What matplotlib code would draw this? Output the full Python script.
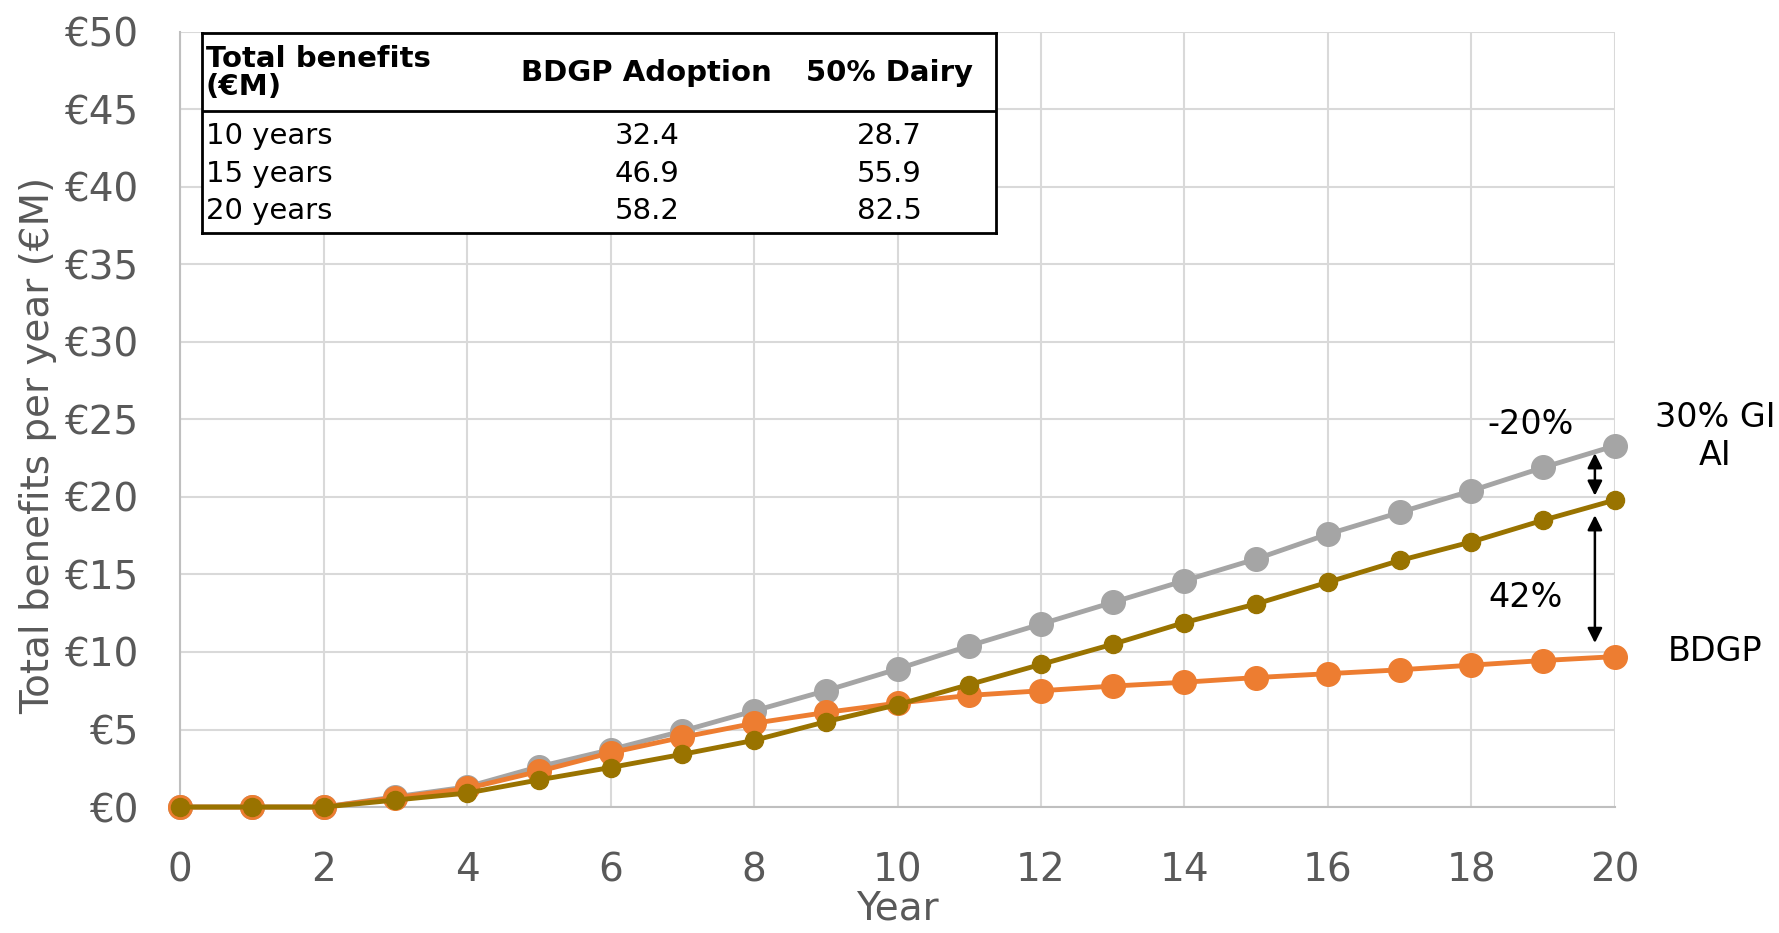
import matplotlib.pyplot as plt

# Data
years = list(range(21))
gi_ai = [0, 0, 0, 0.66, 1.3, 2.6, 3.7, 4.9, 6.2, 7.5, 8.9, 10.4, 11.8, 13.2, 14.6, 16.0, 17.6, 19.0, 20.4, 21.9, 23.3]
dairy = [0, 0, 0, 0.45, 0.9, 1.75, 2.55, 3.4, 4.3, 5.5, 6.6, 7.9, 9.2, 10.5, 11.9, 13.1, 14.5, 15.9, 17.1, 18.5, 19.8]
bdgp = [0, 0, 0, 0.6, 1.2, 2.3, 3.5, 4.5, 5.4, 6.1, 6.7, 7.2, 7.5, 7.8, 8.05, 8.35, 8.6, 8.85, 9.15, 9.45, 9.7]

table_cols = ['BDGP Adoption', '50% Dairy']
table_rows = ['10 years', '15 years', '20 years']
table_bdgp = ['32.4', '46.9', '58.2']
table_dairy = ['28.7', '55.9', '82.5']

tick_color = '#595959'

fig = plt.figure(figsize=(17.79, 9.33), dpi=100)
ax = fig.add_axes([0.1012, 0.135, 0.8066, 0.831])

ax.plot(years, gi_ai, color='#A5A5A5', lw=3.5, marker='o', ms=17, zorder=3, clip_on=False)
ax.plot(years, bdgp, color='#ED7D31', lw=3.5, marker='o', ms=17, zorder=4, clip_on=False)
ax.plot(years, dairy, color='#997300', lw=3.5, marker='o', ms=13, zorder=5, clip_on=False)

ax.set_xlim(0, 20)
ax.set_ylim(0, 50)
ax.set_xticks(range(0, 21, 2))
ax.set_yticks(range(0, 51, 5))
ax.set_yticklabels(['€' + str(v) for v in range(0, 51, 5)])
ax.tick_params(axis='both', length=0, labelsize=28, colors=tick_color)
ax.tick_params(axis='x', pad=32)
ax.tick_params(axis='y', pad=30)
ax.grid(True, color='#D9D9D9', lw=1.5)
ax.set_axisbelow(True)
for side in ['top', 'right']:
    ax.spines[side].set_visible(False)
for side in ['left', 'bottom']:
    ax.spines[side].set_color('#BFBFBF')
    ax.spines[side].set_linewidth(1.5)

ax.set_xlabel('Year', fontsize=28, color=tick_color, labelpad=0)
ax.set_ylabel('Total benefits per year (€M)', fontsize=28, color=tick_color)
ax.yaxis.set_label_coords(-0.086, 0.466)

# Annotations at the right end
ax.annotate('', xy=(19.72, 19.9), xytext=(19.72, 23.0),
            arrowprops=dict(arrowstyle='<|-|>', color='black', lw=1.8, mutation_scale=22))
ax.annotate('', xy=(19.72, 10.4), xytext=(19.72, 19.0),
            arrowprops=dict(arrowstyle='<|-|>', color='black', lw=1.8, mutation_scale=22))
ax.text(18.83, 24.7, '-20%', fontsize=24, ha='center', va='center')
ax.text(18.75, 13.5, '42%', fontsize=24, ha='center', va='center')
ax.text(21.4, 23.9, '30% GI\nAI', fontsize=24, ha='center', va='center', linespacing=1.2)
ax.text(21.4, 10.0, 'BDGP', fontsize=24, ha='center', va='center')

# Summary table in the upper left
tab = fig.add_axes([0.1135, 0.750, 0.4465, 0.215])
tab.set_xlim(0, 1)
tab.set_ylim(0, 1)
tab.set_xticks([])
tab.set_yticks([])
tab.set_facecolor('white')
for s in tab.spines.values():
    s.set_color('black')
    s.set_linewidth(2)
tab.axhline(0.61, color='black', lw=2)
tab.text(0.005, 0.80, 'Total benefits\n(€M)', fontsize=21, fontweight='bold', va='center',
         ha='left', linespacing=1.0)
tab.text(0.56, 0.80, table_cols[0], fontsize=21, fontweight='bold', va='center', ha='center')
tab.text(0.865, 0.80, table_cols[1], fontsize=21, fontweight='bold', va='center', ha='center')
row_y = [0.485, 0.295, 0.11]
for i, r in enumerate(table_rows):
    tab.text(0.005, row_y[i], r, fontsize=21, va='center', ha='left')
    tab.text(0.56, row_y[i], table_bdgp[i], fontsize=21, va='center', ha='center')
    tab.text(0.865, row_y[i], table_dairy[i], fontsize=21, va='center', ha='center')

fig.savefig('out.png', dpi=100)
